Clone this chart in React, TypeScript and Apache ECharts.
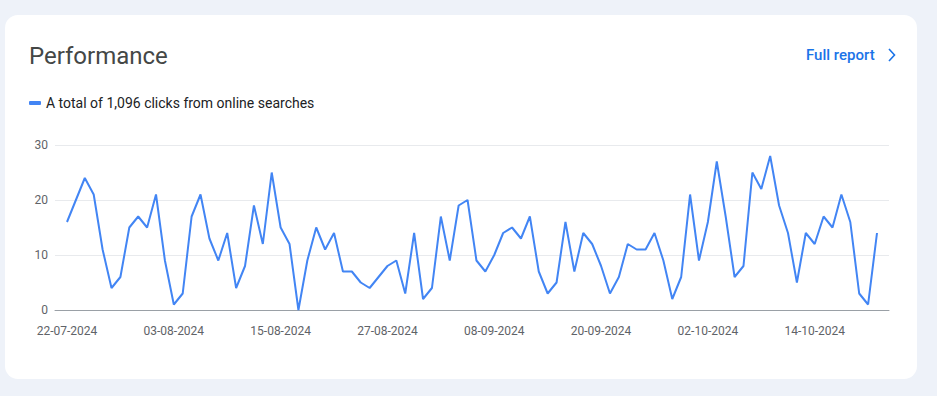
import React, { useEffect, useRef } from "react";
import * as echarts from "echarts";

const startDate = { y: 2024, m: 7, d: 22 };
const clicks: number[] = [
  16, 20, 24, 21, 11, 4, 6, 15, 17, 15, 21, 9, 1, 3, 17, 21, 13, 9, 14, 4,
  8, 19, 12, 25, 15, 12, 0, 9, 15, 11, 14, 7, 7, 5, 4, 6, 8, 9, 3, 14, 2, 4, 17,
  9, 19, 20, 9, 7, 10, 14, 15, 13, 17, 7, 3, 5, 16, 7, 14, 12, 8, 3, 6, 12, 11,
  11, 14, 9, 2, 6, 21, 9, 16, 27, 17, 6, 8, 25, 22, 28, 19, 14, 5, 14, 12, 17, 15, 21, 16, 3, 1, 14,
];
const yTicks = [0, 10, 20, 30];
const titleText = "Performance";
const linkText = "Full report";
const seriesName = "A total of 1,096 clicks from online searches";

function pad(n: number) {
  return n < 10 ? "0" + n : "" + n;
}
const dates: string[] = clicks.map((_, i) => {
  const dt = new Date(Date.UTC(startDate.y, startDate.m - 1, startDate.d + i));
  return `${pad(dt.getUTCDate())}-${pad(dt.getUTCMonth() + 1)}-${dt.getUTCFullYear()}`;
});

export default function App() {
  const ref = useRef<HTMLDivElement>(null);
  useEffect(() => {
    document.body.style.margin = "0";
    const chart = echarts.init(ref.current!, null, { renderer: "svg" });
    const font = "Roboto, 'Noto Sans', sans-serif";
    chart.setOption({
      animation: false,
      backgroundColor: "#eef2f9",
      textStyle: { fontFamily: font },
      graphic: [
        {
          type: "rect",
          z: -10,
          shape: { x: 5, y: 15, width: 912, height: 364, r: 13 },
          style: { fill: "#ffffff" },
          silent: true,
        },
        {
          type: "text",
          x: 29,
          y: 55.5,
          style: {
            text: titleText,
            font: `400 24px ${font}`,
            fill: "#444746",
            textVerticalAlign: "middle",
          },
        },
        {
          type: "text",
          x: 806,
          y: 55,
          style: {
            text: linkText,
            font: `500 15px ${font}`,
            fill: "#1a73e8",
            textVerticalAlign: "middle",
          },
        },
        {
          type: "polyline",
          shape: { points: [[889, 49], [894.5, 55], [889, 61]] },
          style: { stroke: "#1a73e8", lineWidth: 1.6, fill: "none" },
        },
      ],
      legend: {
        left: 24,
        top: 91,
        icon: "roundRect",
        itemWidth: 12,
        itemHeight: 4,
        textStyle: { fontSize: 14, color: "#202124", fontFamily: font },
        data: [seriesName],
      },
      grid: [
        { left: 67, right: 60, top: 145, height: 165 },
        { left: 55, right: 48, top: 145, height: 165 },
      ],
      xAxis: [
        {
          type: "category",
          gridIndex: 0,
          data: dates,
          boundaryGap: false,
          axisLine: { show: false },
          axisTick: { show: false },
          splitLine: { show: false },
          axisLabel: {
            interval: 11,
            color: "#5f6368",
            fontSize: 12,
            margin: 15,
            fontFamily: font,
          },
        },
        {
          type: "value",
          gridIndex: 1,
          min: 0,
          max: 1,
          axisLine: { show: true, lineStyle: { color: "#9aa0a6", width: 1 } },
          axisTick: { show: false },
          axisLabel: { show: false },
          splitLine: { show: false },
        },
      ],
      yAxis: [
        {
          type: "value",
          gridIndex: 0,
          min: yTicks[0],
          max: yTicks[yTicks.length - 1],
          interval: 10,
          show: false,
          splitLine: { show: false },
        },
        {
          type: "value",
          gridIndex: 1,
          min: yTicks[0],
          max: yTicks[yTicks.length - 1],
          interval: 10,
          axisLine: { show: false },
          axisTick: { show: false },
          axisLabel: { color: "#5f6368", fontSize: 12, margin: 7, fontFamily: font },
          splitLine: { show: true, lineStyle: { color: "#e8eaed", width: 1 } },
        },
      ],
      series: [
        {
          name: seriesName,
          type: "line",
          xAxisIndex: 0,
          yAxisIndex: 0,
          data: clicks,
          showSymbol: false,
          symbol: "none",
          color: "#4285f4",
          lineStyle: { color: "#4285f4", width: 2 },
          z: 5,
        },
      ],
    });
    return () => chart.dispose();
  }, []);
  return <div ref={ref} style={{ width: 937, height: 396 }} />;
}
